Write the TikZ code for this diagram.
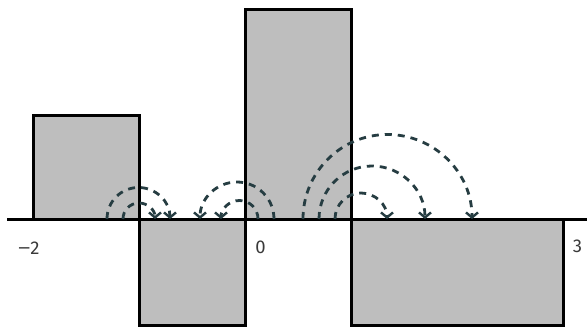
\documentclass[tikz,border=0pt]{standalone}
\usepackage{fontspec}
\usepackage{graphicx}
\setsansfont{Fira Sans}
\usetikzlibrary{arrows.meta}
\definecolor{barfill}{HTML}{BEBEBE}
\definecolor{arccol}{HTML}{263D42}
\definecolor{labcol}{HTML}{3A3A3A}
\begin{document}
\begin{tikzpicture}[x=1pt,y=-1pt,
  bar/.style={fill=barfill,draw=black,line width=3pt},
  axisline/.style={line width=3pt,black},
  jump/.style={arccol,line width=2.8pt,dash pattern=on 7pt off 6pt,
    -{Straight Barb[length=5pt,width=12pt,line width=2.4pt]}},
  lab/.style={labcol,font=\sffamily\fontsize{18.5}{21}\selectfont,inner sep=0pt}]
\useasboundingbox (0,0) rectangle (587,327);
% bars
\draw[bar] (33,115) rectangle (139,219);
\draw[bar] (139,219) rectangle (245,325);
\draw[bar] (245,9) rectangle (351,219);
\draw[bar] (351,219) rectangle (563,325);
% axis
\coordinate (axL) at (7,219);
\coordinate (axR) at (587,219);
\draw[axisline] (axL) -- (axR);
% labels
\node[lab] (lm2) at (28.5,248) {\scalebox{1.5}[1]{−}\hspace{-1pt}2};
\node[lab] (l0) at (260.5,247.5) {0};
\node[lab] (l3) at (577.5,246.5) {3};
% arcs group 1
\coordinate (a1s) at (123,219);
\coordinate (a2s) at (107,219);
\draw[jump] (a1s) arc[start angle=180,end angle=360,radius=16];
\draw[jump] (a2s) arc[start angle=180,end angle=360,radius=31.5];
% arcs group 2
\coordinate (b1s) at (258,219);
\coordinate (b2s) at (274,219);
\draw[jump] (b1s) arc[start angle=0,end angle=-180,radius=18.5];
\draw[jump] (b2s) arc[start angle=0,end angle=-180,radius=37];
% arcs group 3
\coordinate (c1s) at (335,219);
\coordinate (c2s) at (319,219);
\coordinate (c3s) at (303,219);
\draw[jump] (c1s) arc[start angle=180,end angle=360,radius=26];
\draw[jump] (c2s) arc[start angle=180,end angle=360,radius=53];
\draw[jump] (c3s) arc[start angle=180,end angle=360,radius=84.5];
\end{tikzpicture}
\end{document}
